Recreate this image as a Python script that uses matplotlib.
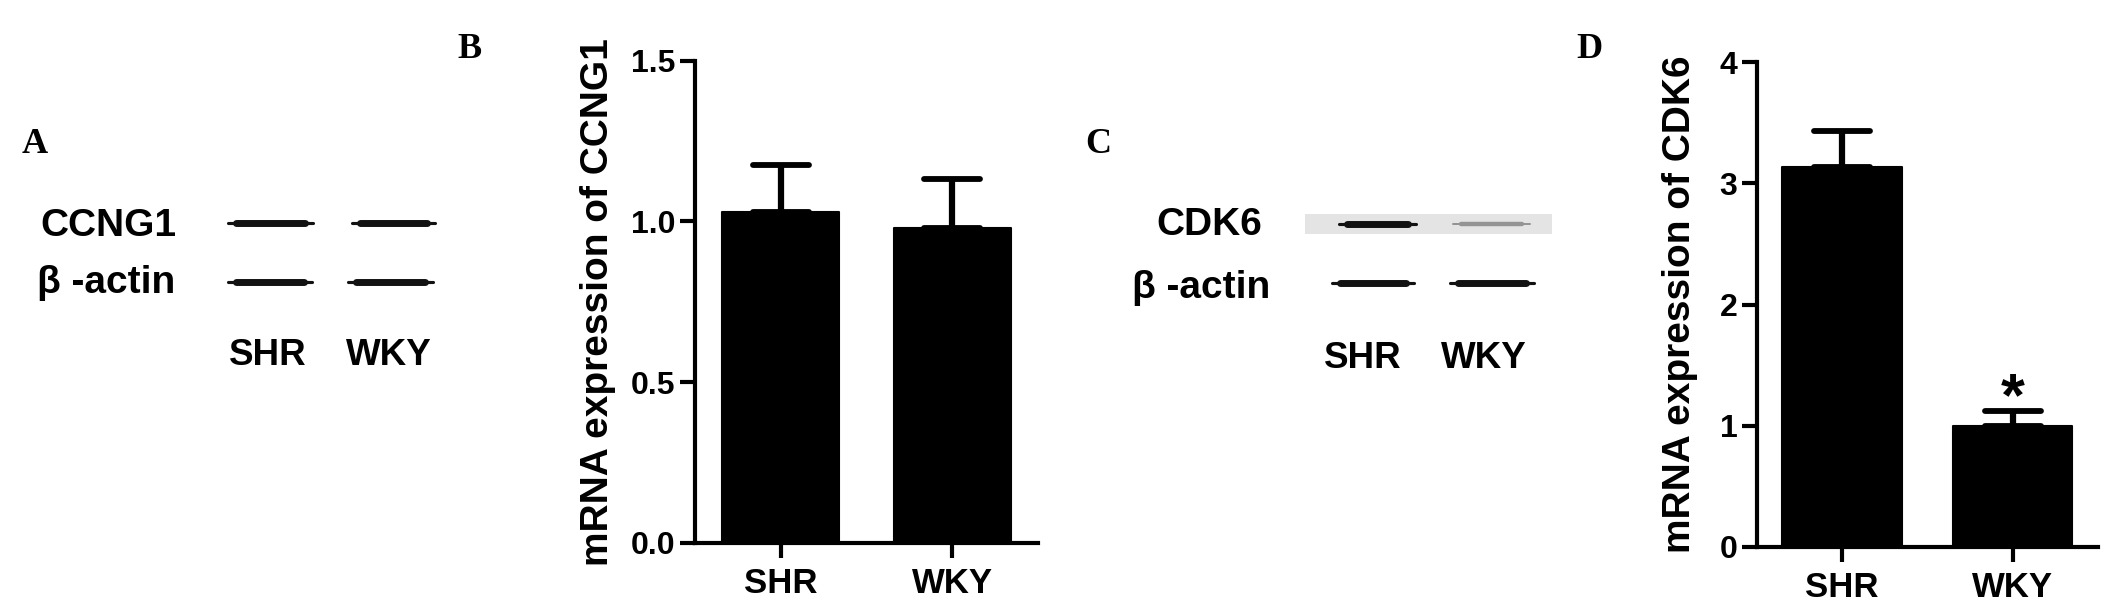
import matplotlib
matplotlib.use('Agg')
import matplotlib.pyplot as plt
from matplotlib.patches import Rectangle
from matplotlib.markers import MarkerStyle
import numpy as np

# ---------------- data ----------------
groups = ['SHR', 'WKY']
ccng1_mean = [1.03, 0.98]
ccng1_sem = [0.145, 0.152]
cdk6_mean = [3.13, 1.00]
cdk6_sem = [0.30, 0.12]
ccng1_yticks = [0.0, 0.5, 1.0, 1.5]
cdk6_yticks = [0, 1, 2, 3, 4]
cdk6_sig = ['', '*']
ccng1_ylabel = 'mRNA expression of CCNG1'
cdk6_ylabel = 'mRNA expression of CDK6'
# western blot rows and relative band intensities (per lane)
blot_a_rows = ['CCNG1', 'β -actin']
blot_a_intensity = [[1.0, 1.0], [1.0, 1.0]]
blot_c_rows = ['CDK6', 'β -actin']
blot_c_intensity = [[1.0, 0.45], [1.0, 1.0]]
panel_letters = ['A', 'B', 'C', 'D']

# ---------------- figure ----------------
W, H = 2126, 607
SANS = ['Liberation Sans', 'Arial', 'DejaVu Sans']
SERIF = ['Liberation Serif', 'Times New Roman', 'DejaVu Serif']
plt.rcParams['font.family'] = SANS
plt.rcParams['font.weight'] = 'bold'

fig = plt.figure(figsize=(W / 100, H / 100), dpi=100)
fig.patch.set_facecolor('white')

# overlay canvas in pixel units for the blot images and panel letters
ov = fig.add_axes([0, 0, 1, 1])
ov.set_xlim(0, W)
ov.set_ylim(H, 0)
ov.set_axis_off()

letter_pos = [(22, 153), (457, 58), (1085, 153), (1576, 58)]
for letter, (lx, ly) in zip(panel_letters, letter_pos):
    ov.text(lx, ly, letter, family=SERIF, fontweight='bold', fontsize=26,
            ha='left', va='baseline', color='black')


def band(x0, x1, y, intensity, thick=5.0):
    g = 1 - 0.93 * intensity
    col = (g, g, g)
    ov.plot([x0, x1], [y, y], color=col, lw=thick * 0.45,
            solid_capstyle='round', zorder=3)
    ov.plot([x0 + 8, x1 - 8], [y, y], color=col, lw=thick,
            solid_capstyle='round', zorder=3)


def blot(rows, intensity, label_right, label_base, band_y, lanes,
         lane_label_x, lane_label_base, box=None):
    if box is not None:
        ov.add_patch(Rectangle((box[0], box[1]), box[2], box[3],
                               facecolor='#e4e4e4', edgecolor='none', zorder=2))
    for r, name in enumerate(rows):
        ov.text(label_right[r], label_base[r], name, fontsize=28,
                fontweight='bold', ha='right', va='baseline', color='black')
        for k, (x0, x1) in enumerate(lanes[r]):
            thick = 5.0 if intensity[r][k] > 0.6 else 3.2
            band(x0, x1, band_y[r], intensity[r][k], thick)
    for k, g in enumerate(groups):
        ov.text(lane_label_x[k], lane_label_base, g, fontsize=26.5,
                fontweight='bold', ha='center', va='baseline', color='black')


blot(blot_a_rows, blot_a_intensity,
     label_right=[177, 175], label_base=[236, 293],
     band_y=[223, 282],
     lanes=[[(228, 313), (352, 435)], [(228, 312), (348, 433)]],
     lane_label_x=[267.5, 388.5], lane_label_base=365)

blot(blot_c_rows, blot_c_intensity,
     label_right=[1262, 1270], label_base=[235, 298],
     band_y=[224, 283],
     lanes=[[(1339, 1416), (1453, 1530)], [(1332, 1414), (1450, 1534)]],
     lane_label_x=[1362.5, 1484], lane_label_base=368,
     box=(1305, 214, 247, 20))


# ---------------- bar panels ----------------
def bar_panel(rect, means, sems, yticks, fmt, ylabel, width, ylabel_x, sig=None):
    ax = fig.add_axes(rect)
    ax.set_facecolor('none')
    x = np.arange(len(groups))
    ax.bar(x, means, width=width, color='black', edgecolor='black',
           linewidth=1.5, joinstyle='round', zorder=2)
    eb = ax.errorbar(x, means, yerr=[np.zeros(len(means)), sems], fmt='none',
                     ecolor='black', elinewidth=4.5, capsize=20, capthick=4.2,
                     zorder=1)
    for cap in eb[1]:
        try:
            cap.set_marker(MarkerStyle('_', capstyle='round'))
        except Exception:
            pass
    ax.set_xlim(-0.5, 1.5)
    ax.set_ylim(yticks[0], yticks[-1])
    ax.set_yticks(yticks)
    ax.set_yticklabels([fmt.format(v) for v in yticks])
    ax.set_xticks(x)
    ax.set_xticklabels(groups)
    for s in ['top', 'right']:
        ax.spines[s].set_visible(False)
    for s in ['left', 'bottom']:
        ax.spines[s].set_linewidth(3)
        ax.spines[s].set_capstyle('projecting')
    ax.tick_params(axis='both', width=3, length=10.5, direction='out', color='black')
    ax.tick_params(axis='y', labelsize=23, pad=3.5)
    ax.tick_params(axis='x', labelsize=25, pad=7)
    for t in ax.get_xticklabels() + ax.get_yticklabels():
        t.set_fontweight('bold')
    ax.set_ylabel(ylabel, fontsize=28, fontweight='bold', va='center')
    ax.yaxis.set_label_coords(ylabel_x, 0.5)
    if sig is not None:
        for xi, m, e, s in zip(x, means, sems, sig):
            if s:
                ax.annotate(s, xy=(xi, m + e), xytext=(0, -3),
                            textcoords='offset points', ha='center',
                            va='baseline', fontsize=44, fontweight='bold')
    return ax


bar_panel([695 / W, 1 - 543 / H, 343 / W, (543 - 60.5) / H],
          ccng1_mean, ccng1_sem, ccng1_yticks, '{:.1f}', ccng1_ylabel,
          0.68, -0.284)

bar_panel([1756.7 / W, 1 - 547 / H, 341.3 / W, (547 - 62) / H],
          cdk6_mean, cdk6_sem, cdk6_yticks, '{:d}', cdk6_ylabel,
          0.70, -0.226, sig=cdk6_sig)

fig.savefig('out.png', dpi=100, facecolor='white')
